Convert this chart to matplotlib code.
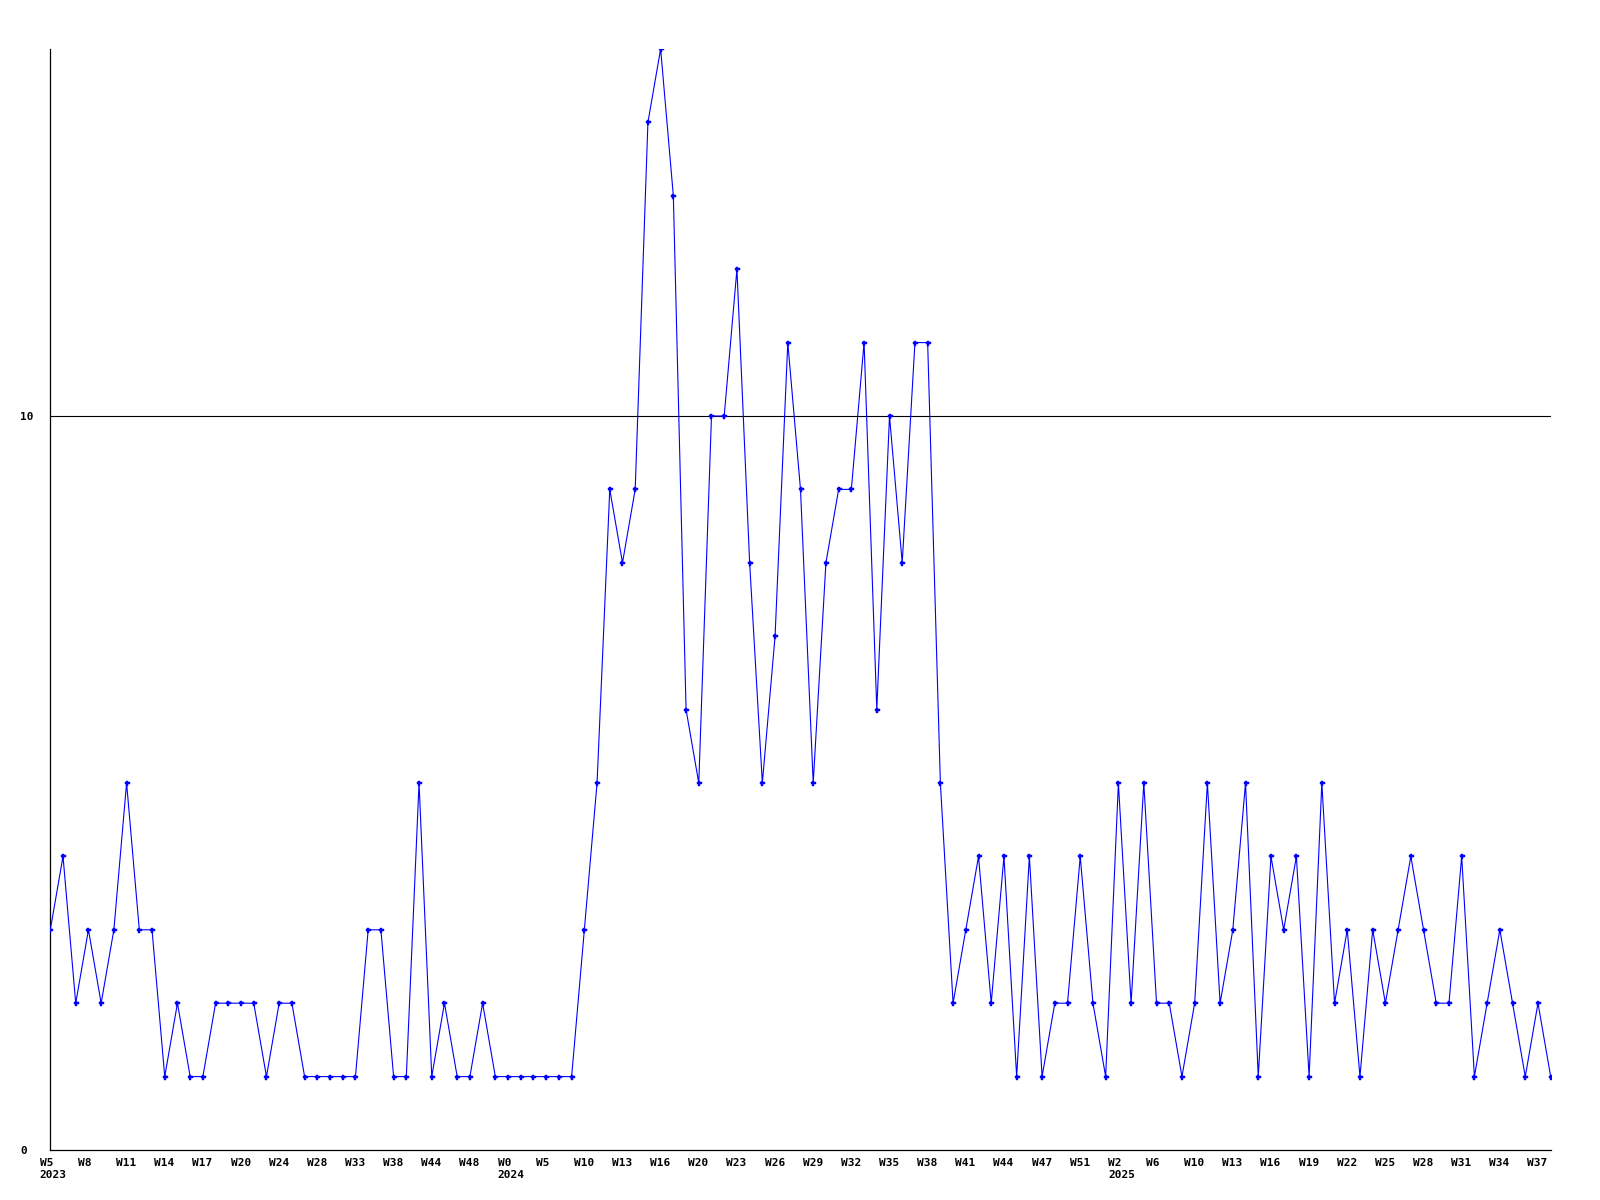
import matplotlib
matplotlib.use("Agg")
import matplotlib.pyplot as plt
from matplotlib.transforms import ScaledTranslation

values = [3, 4, 2, 3, 2, 3, 5, 3, 3, 1,
          2, 1, 1, 2, 2, 2, 2, 1, 2, 2,
          1, 1, 1, 1, 1, 3, 3, 1, 1, 5,
          1, 2, 1, 1, 2, 1, 1, 1, 1, 1,
          1, 1, 3, 5, 9, 8, 9, 14, 15, 13,
          6, 5, 10, 10, 12, 8, 5, 7, 11, 9,
          5, 8, 9, 9, 11, 6, 10, 8, 11, 11,
          5, 2, 3, 4, 2, 4, 1, 4, 1, 2,
          2, 4, 2, 1, 5, 2, 5, 2, 2, 1,
          2, 5, 2, 3, 5, 1, 4, 3, 4, 1,
          5, 2, 3, 1, 3, 2, 3, 4, 3, 2,
          2, 4, 1, 2, 3, 2, 1, 2, 1]

tick_index = [0, 3, 6, 9, 12, 15, 18, 21, 24, 27, 30, 33, 36, 39, 42, 45, 48,
              51, 54, 57, 60, 63, 66, 69, 72, 75, 78, 81, 84, 87, 90, 93, 96,
              99, 102, 105, 108, 111, 114, 117]
tick_labels = ["W5\n2023", "W8", "W11", "W14", "W17", "W20", "W24", "W28", "W33",
               "W38", "W44", "W48", "W0\n2024", "W5", "W10", "W13", "W16", "W20",
               "W23", "W26", "W29", "W32", "W35", "W38", "W41", "W44", "W47",
               "W51", "W2\n2025", "W6", "W10", "W13", "W16", "W19", "W22", "W25",
               "W28", "W31", "W34", "W37"]
y_ticks = [0, 10]
y_labels = ["0", "10"]

fig = plt.figure(figsize=(16, 12), dpi=100)
ax = fig.add_axes([50.3 / 1600, 1 - 1150 / 1200, (1550.7 - 50.3) / 1600, (1150 - 49) / 1200])

x = list(range(len(values)))
ax.axhline(10, color="black", lw=0.8, zorder=1)
ax.plot(x, values, color="#0000ff", lw=0.8, marker="P", ms=3.6,
        markerfacecolor="#0000ff", markeredgecolor="#0000ff", markeredgewidth=0.3,
        zorder=3, clip_on=True)

ax.set_xlim(0, len(values) - 1)
ax.set_ylim(0, 15)
for s in ["top", "right"]:
    ax.spines[s].set_visible(False)
for s in ["left", "bottom"]:
    ax.spines[s].set_linewidth(0.9)
    ax.spines[s].set_color("black")

font = dict(family="DejaVu Sans Mono", weight="bold", size=8)

ax.set_xticks(tick_index)
ax.set_xticklabels(tick_labels, **font)
ax.tick_params(axis="x", length=0, pad=5.5)
xoff = ScaledTranslation(-10.5 / 100, 0, fig.dpi_scale_trans)
for lab in ax.get_xticklabels():
    lab.set_horizontalalignment("left")
    lab.set_multialignment("left")
    lab.set_linespacing(1.35)
    lab.set_transform(lab.get_transform() + xoff)

ax.set_yticks(y_ticks)
ax.set_yticklabels(y_labels, **font)
ax.tick_params(axis="y", length=0, pad=0)
yoff = ScaledTranslation(-30.3 / 100, 0, fig.dpi_scale_trans)
for lab in ax.get_yticklabels():
    lab.set_horizontalalignment("left")
    lab.set_transform(lab.get_transform() + yoff)

fig.savefig("out.png", dpi=100, facecolor="white")
